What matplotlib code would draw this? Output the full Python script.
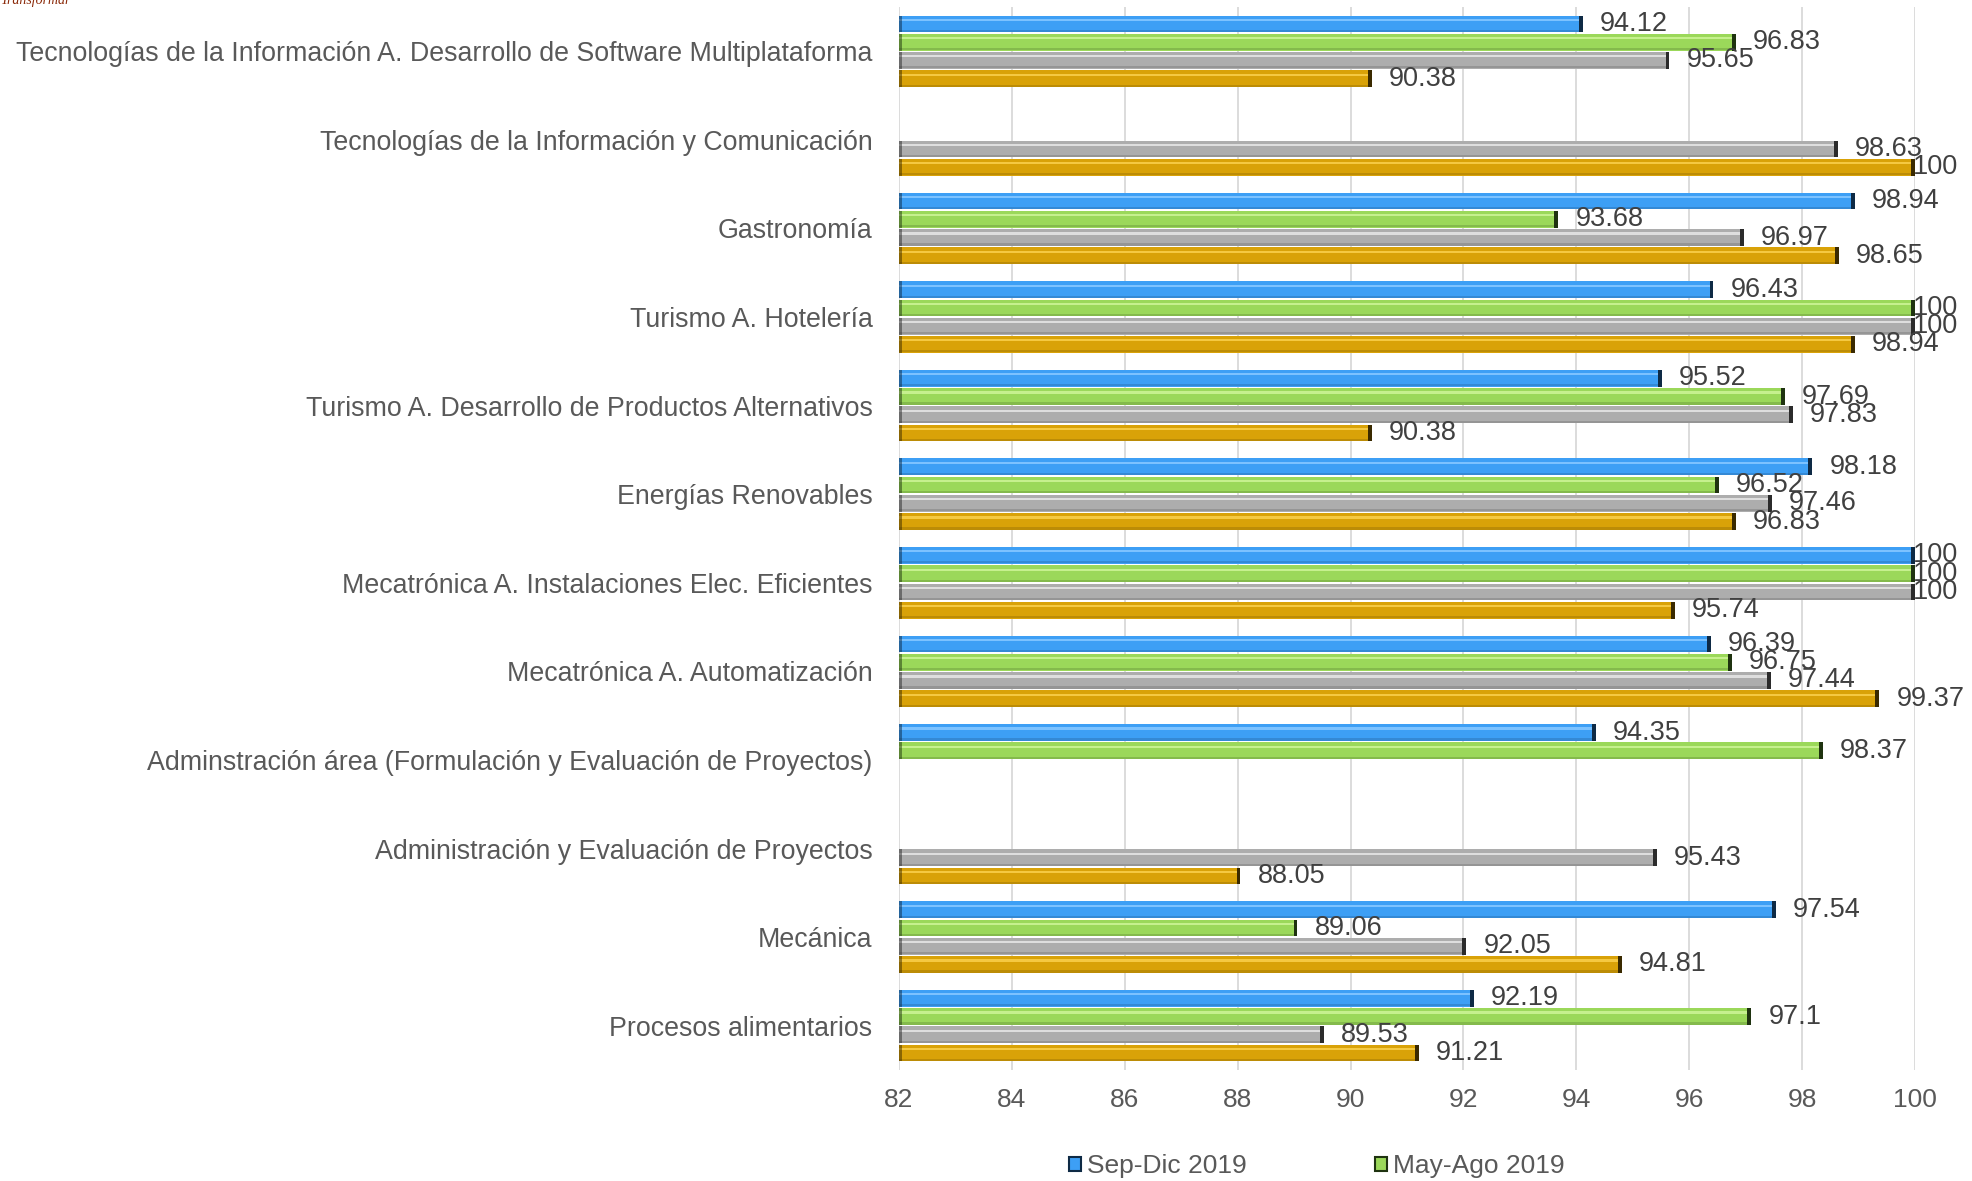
import numpy as np
import matplotlib.pyplot as plt
from matplotlib.patches import Patch

categories = [
    "Tecnologías de la Información A. Desarrollo de Software Multiplataforma",
    "Tecnologías de la Información y Comunicación",
    "Gastronomía",
    "Turismo A. Hotelería",
    "Turismo A. Desarrollo de Productos Alternativos",
    "Energías Renovables",
    "Mecatrónica A. Instalaciones Elec. Eficientes",
    "Mecatrónica A. Automatización",
    "Adminstración área (Formulación y Evaluación de Proyectos)",
    "Administración y Evaluación de Proyectos",
    "Mecánica",
    "Procesos alimentarios",
]

nan = np.nan
sep_dic_2019 = [94.12, nan, 98.94, 96.43, 95.52, 98.18, 100, 96.39, 94.35, nan, 97.54, 92.19]
may_ago_2019 = [96.83, nan, 93.68, 100, 97.69, 96.52, 100, 96.75, 98.37, nan, 89.06, 97.1]
serie_gris = [95.65, 98.63, 96.97, 100, 97.83, 97.46, 100, 97.44, nan, 95.43, 92.05, 89.53]
serie_oro = [90.38, 100, 98.65, 98.94, 90.38, 96.83, 95.74, 99.37, nan, 88.05, 94.81, 91.21]

series_names = ["Sep-Dic 2019", "May-Ago 2019", "Ene-Abr 2019", "Sep-Dic 2018"]
x_ticks = [82, 84, 86, 88, 90, 92, 94, 96, 98, 100]

plt.rcParams["font.family"] = ["Liberation Sans", "DejaVu Sans"]

fig = plt.figure(figsize=(19.72, 11.81), dpi=100)
ax = fig.add_axes([899 / 1972, 1 - 1070 / 1181, (1915 - 899) / 1972, (1070 - 7) / 1181])

series = [sep_dic_2019, may_ago_2019, serie_gris, serie_oro]
# main, highlight, dark cap
styles = [
    ("#3d9ff5", "#7cc2ff", "#0e2a45"),
    ("#9bd85a", "#c6f08e", "#1f3310"),
    ("#adadad", "#dedede", "#2b2b2b"),
    ("#d9a208", "#f5c942", "#3a2a00"),
]
h = 0.206
offsets = [-1.5 * h, -0.5 * h, 0.5 * h, 1.5 * h]
y = np.arange(len(categories))
xmin = 82

for vals, (c, hi, dark), off in zip(series, styles, offsets):
    vals = np.array(vals, dtype=float)
    ok = ~np.isnan(vals)
    yy = y[ok] + off
    vv = vals[ok]
    ax.barh(yy, vv - xmin, left=xmin, height=h * 0.92, color=c, zorder=2)
    ax.barh(yy - h * 0.22, vv - xmin, left=xmin, height=h * 0.12, color=hi, zorder=3)
    ax.barh(yy + h * 0.38, vv - xmin, left=xmin, height=h * 0.12, color=dark, alpha=0.18, zorder=3)
    ax.barh(yy, 0.07, left=vv - 0.07, height=h * 0.92, color=dark, zorder=4)
    ax.barh(yy, 0.05, left=xmin, height=h * 0.92, color=dark, alpha=0.5, zorder=4)
    for yi, v in zip(yy, vv):
        # labels at the edge are pushed back inside the chart, like Excel does
        dx = -2 if v >= 100 else 17
        ax.annotate(f"{v:g}", (v, yi), xytext=(dx, 0), textcoords="offset pixels",
                    ha="left", va="center", fontsize=19.5, color="#404040", zorder=5,
                    annotation_clip=False)

ax.set_xlim(82, 100)
ax.set_ylim(len(categories) - 0.5, -0.5)
ax.set_xticks(x_ticks)
ax.set_xticklabels([str(t) for t in x_ticks], family=["Liberation Sans Narrow", "Liberation Sans"])
ax.set_yticks(y)
ax.set_yticklabels(categories)
ax.tick_params(axis="x", length=0, labelsize=19, labelcolor="#595959", pad=13)
ax.tick_params(axis="y", length=0, labelsize=19.3, labelcolor="#595959", pad=19)
ax.grid(axis="x", color="#d9d9d9", linewidth=1.3, zorder=0)
ax.set_axisbelow(True)
for s in ax.spines.values():
    s.set_visible(False)

handles = [Patch(facecolor=styles[i][0], edgecolor=styles[i][2], linewidth=1.5) for i in range(2)]
fig.legend(handles, series_names[:2], loc="center left", bbox_to_anchor=(1045 / 1972, 1 - 1166 / 1181),
           ncol=2, frameon=False, fontsize=19, labelcolor="#595959", handlelength=0.45,
           handleheight=0.45, handletextpad=0.25, columnspacing=4.85)

fig.text(0.0, 1.0, "Transformar", fontsize=10, style="italic", family="Liberation Serif",
         color="#8b2a0a", ha="left", va="center")

fig.savefig("out.png", dpi=100)
